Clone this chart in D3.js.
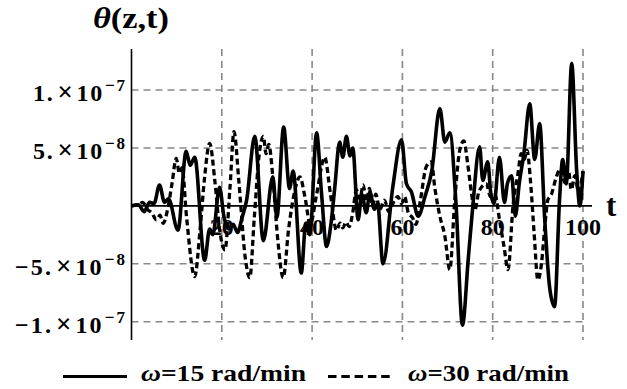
<!DOCTYPE html>
<html><head><meta charset="utf-8">
<script src="https://cdn.jsdelivr.net/npm/d3@7"></script>
</head>
<body style="margin:0;background:#fff"><svg id="c" width="627" height="389" style="display:block"></svg>
<script>
// ---- data (values in units of 1e-8) ----
const tSolid = [0,1.5,2.8,4,5,6.2,7.3,8.2,10.3,12.1,13,14,16.2,17.3,18,19.5,20.5,21.5,22.5,23.5,24.5,25.5,27.3,29.2,31.3,32.2,33.7,35,35.8,37.6,38.6,39.5,41,42.1,43.2,44.2,45,46.1,46.8,47.6,48.4,49,50.2,51,52,52.8,53.8,54.5,55.7,57.9,59.8,60.9,62,63.5,65,66.5,68.3,69.4,70.5,71.9,73.3,74.6,75.6,77.1,77.8,78.9,79.6,80.3,81.5,82.6,83.3,84.2,85,85.9,86.9,88.2,89.3,90.4,91.5,92.6,93.7,94.8,95.5,96.3,97.5,98.6,99.3,100];
const vSolid = [0,0.1,-0.5,0.3,0.2,1.8,0.3,0.6,-2.1,4.7,3.5,4.2,-4.7,-2,-2.5,1.6,-1.0,-2.0,-1.6,-2.3,-1.0,0.5,6.0,-3.0,2.5,-1.0,6.8,1.5,3.0,-5.8,-1.5,-2.5,6.3,1.0,-3.5,-1.5,1.5,5.5,4.2,6.0,4.3,5.0,-1.2,1.0,-0.6,1.2,-0.3,0.2,-5.0,1.7,5.7,1.9,1.2,-0.9,0.8,3.0,8.4,5.5,6.3,0,-10.3,-4.5,0,5.1,2.2,3.8,1.0,0.2,4.2,0.3,2.0,2.6,-0.9,2.0,4.5,8.8,4.0,7.1,-1,-7,-8.7,0.5,4.0,1.9,12.3,3,0,3];
const tDashed = [0,1.5,2.5,3.5,4.5,5.5,6.3,7,8,9,9.9,10.6,11.2,12.2,14,15.2,16.2,17.3,18.5,19.5,20.7,21.8,22.7,23.8,25.2,26.2,27.2,28.3,29.2,29.8,30.4,31.3,32.3,33.6,34.8,36,37.3,38.4,39.6,41,42.8,44,45.4,46.2,46.8,47.5,48.2,49,49.8,50.6,51.3,52,52.7,53.4,54.1,55,56,57,58,59,59.8,60.5,61.3,62.2,63,64,65.3,66.4,67.2,68.3,69.4,70.5,71.6,72.7,73.6,74.5,75.3,76,77,78.6,79.5,80.5,81.5,82.5,83.4,84.5,85.6,86.3,87,87.6,88.4,89.2,90,90.8,91.5,92.2,93,94.1,95,96,96.8,97.4,98.2,99,100];
const vDashed = [0,0.1,0.3,-0.3,-0.6,-1.2,-0.8,-1.5,-0.3,2.0,4.1,2.8,3.3,-1.0,-6.1,-2.0,2.5,5.4,2.0,-2.0,-3.8,1.5,6.4,2.0,-4.5,-6.2,-1.0,4.5,6.0,4.5,5.3,2.5,-2.5,-6.2,-2.0,1.0,2.5,0.8,-1.6,1.0,4.2,1.2,-2.1,-1.5,-1.9,-1.4,-1.8,-0.6,1.4,0.6,1.8,0.4,1.5,0,1.0,-0.3,0.5,-0.5,0.3,0.8,0.2,0.8,-0.6,-1.0,-1.6,0.5,3.4,3.8,1.5,-0.9,-2.6,-5.5,0.5,4.8,5.6,3.5,1.1,-0.4,1.3,1.9,0.8,1.0,-1.2,-3.5,-5.5,0,2.8,4.5,4.0,4.8,2.0,-2.5,-6.4,-5.0,-2.0,0.5,1.0,2.5,3.2,2.0,3.0,1.4,2.6,1.2,3.0];
const xTicks = [20,40,60,80,100];
const yTicks = [1e-7,5e-8,-5e-8,-1e-7];
const legendLabels = ["=15 rad/min","=30 rad/min"];

const FONT = "'Liberation Serif'";
const svg = d3.select("#c").style("font-family",FONT).style("font-weight","bold");
const x = d3.scaleLinear().domain([0,100]).range([131.5,583]);
const y = d3.scaleLinear().domain([-1e-7,1e-7]).range([321.7,90]);
const yTop = 49, yBot = 340;
const T = sel => sel.style("font-family",FONT).style("font-weight","bold");

// grid
const grid = svg.append("g").attr("stroke","#888").attr("stroke-width",1.6).attr("stroke-dasharray","7,5");
grid.selectAll("line.v").data(xTicks).join("line").attr("class","v")
  .attr("x1",d=>x(d)).attr("x2",d=>x(d)).attr("y1",yTop).attr("y2",yBot);
grid.selectAll("line.h").data(yTicks).join("line").attr("class","h")
  .attr("x1",x(0)).attr("x2",x(100)+2).attr("y1",d=>y(d)).attr("y2",d=>y(d));

// x tick labels (drawn under the curves)
svg.selectAll("text.xt").data(xTicks).join("text").attr("class","xt").call(T)
  .attr("x",d=>x(d)).attr("y",235).attr("text-anchor","middle").attr("font-size",24).text(d=>d);
svg.append("text").call(T).attr("x",606).attr("y",216).attr("font-size",31).text("t");

// axes
svg.append("line").attr("x1",x(0)).attr("x2",x(0)).attr("y1",yTop).attr("y2",yBot).attr("stroke","#000").attr("stroke-width",1.6);
svg.append("line").attr("x1",x(0)).attr("x2",592).attr("y1",y(0)).attr("y2",y(0)).attr("stroke","#000").attr("stroke-width",1.6);

// curves
const line = d3.line().x(d=>x(d[0])).y(d=>y(d[1]*1e-8)).curve(d3.curveMonotoneX);
svg.append("path").datum(tDashed.map((t,i)=>[t,vDashed[i]]))
  .attr("d",line).attr("fill","none").attr("stroke","#000").attr("stroke-width",3.3).attr("stroke-dasharray","6,3.5");
svg.append("path").datum(tSolid.map((t,i)=>[t,vSolid[i]]))
  .attr("d",line).attr("fill","none").attr("stroke","#000").attr("stroke-width",3.6).attr("stroke-linejoin","round");

// y tick labels
function fmt(v){const e=Math.floor(Math.log10(Math.abs(v))+1e-9);const m=v/Math.pow(10,e);return {m:(m<0?"\u2212":"")+Math.abs(Math.round(m))+".",e:"\u2212"+Math.abs(e)};}
const yl = svg.selectAll("text.yt").data(yTicks).join("text").attr("class","yt").call(T)
  .attr("x",125).attr("y",d=>y(d)+11).attr("text-anchor","end").attr("font-size",24)
  .attr("textLength",d=>d<0?110:92).attr("lengthAdjust","spacing");
yl.append("tspan").text(d=>fmt(d).m);
yl.append("tspan").attr("dx",3).attr("font-size",27).text("\u00d7");
yl.append("tspan").attr("dx",2).text("10");
yl.append("tspan").attr("dy",-10).attr("dx",1).attr("font-size",17).text(d=>fmt(d).e);

// title
const ti = svg.append("text").call(T).attr("x",93).attr("y",28).attr("font-size",29)
  .attr("textLength",76).attr("lengthAdjust","spacingAndGlyphs");
ti.append("tspan").attr("font-style","italic").text("\u03b8");
ti.append("tspan").text("(z,t)");

// legend
const ly = 376.5;
svg.append("line").attr("x1",63).attr("x2",127).attr("y1",ly).attr("y2",ly).attr("stroke","#000").attr("stroke-width",3);
svg.append("line").attr("x1",328).attr("x2",392).attr("y1",ly).attr("y2",ly).attr("stroke","#000").attr("stroke-width",3).attr("stroke-dasharray","8.5,4.8");
[[141,306],[408,569]].forEach((p,i)=>{
  const t = svg.append("text").call(T)
    .attr("x",p[0]).attr("y",381).attr("font-size",24)
    .attr("textLength",p[1]-p[0]).attr("lengthAdjust","spacingAndGlyphs");
  t.append("tspan").attr("font-style","italic").text("\u03c9");
  t.append("tspan").text(legendLabels[i]);
});
</script></body></html>
